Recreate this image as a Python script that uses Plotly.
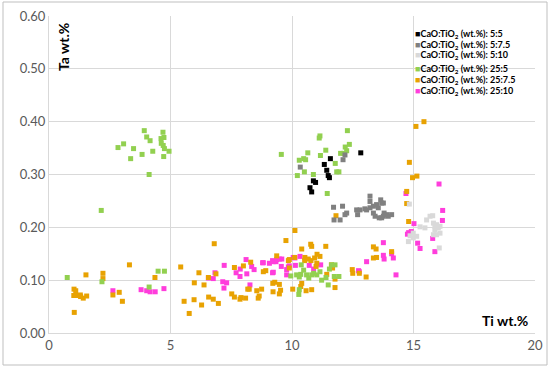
import plotly.graph_objects as go

# ---------------- data ----------------
series_names = ["5:5", "5:7.5", "5:10", "25:5", "25:7.5", "25:10"]
series_colors = ["#000000", "#808080", "#d9d9d9", "#92d050", "#e8a202", "#ff3ddc"]

x_5_5 = [12.83, 11.58, 11.33, 11.43, 11.49, 11.54, 10.88, 10.97, 10.74, 10.81]
y_5_5 = [0.341, 0.330, 0.319, 0.308, 0.298, 0.294, 0.288, 0.285, 0.275, 0.267]

x_5_75 = [10.34, 12.18, 12.10, 11.71, 12.08, 11.73, 11.98, 12.25, 12.18, 12.66, 12.80, 12.70,
          13.00, 13.07, 13.21, 13.21, 13.21, 13.35, 13.48, 13.65, 13.69, 13.55, 13.35, 13.59,
          13.76, 13.96, 14.10, 13.42, 13.79, 13.76, 13.90, 13.69]
y_5_75 = [0.314, 0.337, 0.328, 0.238, 0.240, 0.214, 0.214, 0.227, 0.224, 0.233, 0.233, 0.224,
          0.235, 0.233, 0.259, 0.249, 0.237, 0.240, 0.243, 0.252, 0.246, 0.237, 0.227, 0.218,
          0.221, 0.221, 0.224, 0.221, 0.227, 0.246, 0.224, 0.218]

x_5_10 = [14.83, 15.68, 15.79, 15.54, 15.27, 15.47, 15.82, 15.95, 15.88, 16.02, 16.09, 15.82,
          15.95, 15.13, 14.99, 14.86, 14.79, 14.99, 16.06, 15.88, 16.09]
y_5_10 = [0.244, 0.221, 0.222, 0.214, 0.201, 0.199, 0.208, 0.205, 0.195, 0.199, 0.189, 0.186,
          0.186, 0.183, 0.180, 0.184, 0.173, 0.189, 0.161, 0.202, 0.202]

x_25_5 = [3.92, 4.02, 4.16, 4.69, 4.73, 4.61, 4.62, 4.70, 4.75, 4.94, 4.72, 4.27, 3.83, 3.48,
          3.07, 2.84, 3.36, 4.12, 2.15,
          0.75, 2.18, 4.49, 4.75, 4.12,
          12.28, 11.15, 11.12, 12.36, 12.19, 12.25, 12.00, 12.13, 11.39, 10.65, 9.56, 11.17,
          10.30, 10.48, 10.56, 11.78, 10.51, 10.22, 10.88, 11.84, 11.93, 11.45,
          10.38, 10.48, 10.36, 10.60, 10.19, 9.95, 10.30, 10.69, 10.81, 11.02, 11.15, 11.22,
          11.40, 11.54, 11.63, 11.77, 11.49, 11.74, 11.93, 10.30, 10.28, 10.89]
y_25_5 = [0.383, 0.371, 0.364, 0.380, 0.370, 0.368, 0.359, 0.355, 0.349, 0.344, 0.334, 0.344,
          0.338, 0.349, 0.358, 0.351, 0.330, 0.300, 0.232,
          0.105, 0.097, 0.117, 0.117, 0.087,
          0.383, 0.373, 0.369, 0.357, 0.352, 0.345, 0.340, 0.340, 0.346, 0.341, 0.338, 0.336,
          0.327, 0.330, 0.328, 0.321, 0.305, 0.298, 0.300, 0.305, 0.305, 0.264,
          0.129, 0.119, 0.111, 0.110, 0.110, 0.108, 0.106, 0.104, 0.110, 0.110, 0.116, 0.100,
          0.105, 0.121, 0.129, 0.129, 0.091, 0.107, 0.107, 0.082, 0.073, 0.113]

x_25_75 = [1.03, 1.10, 1.02, 1.11, 1.29, 1.30, 1.41, 1.55, 1.04, 1.52, 2.22, 2.22, 2.63, 2.89,
           3.02, 3.31, 4.36,
           5.42, 6.17, 5.98, 6.38, 5.56, 5.97, 5.77, 6.28, 6.57, 6.76, 6.97, 6.56, 6.87, 6.80,
           7.52, 7.63, 7.86, 7.90, 8.09, 8.18, 8.24, 8.55, 8.75, 8.61, 8.65, 7.63, 8.00, 8.30,
           8.92, 8.82,
           9.37, 9.85, 9.89, 9.75, 10.12, 9.21, 9.29, 9.48, 9.22, 9.53, 9.48, 10.03, 10.40,
           10.36, 10.58, 10.81, 11.77, 11.77, 11.43,
           9.89, 10.11, 10.40, 10.53, 10.52, 10.67, 10.78, 10.93, 11.02, 10.99, 10.77, 10.81,
           11.39, 11.03, 11.15, 11.62, 11.67,
           12.48, 12.50, 12.77, 13.05, 13.35, 13.46, 13.35, 13.48, 14.10, 11.81,
           15.43, 15.10, 14.83, 14.96, 15.14, 14.72, 14.72, 14.80]
y_25_75 = [0.083, 0.080, 0.071, 0.071, 0.072, 0.069, 0.066, 0.070, 0.039, 0.110, 0.113, 0.103,
           0.072, 0.077, 0.060, 0.129, 0.105,
           0.125, 0.114, 0.095, 0.091, 0.060, 0.063, 0.037, 0.053, 0.068, 0.064, 0.056, 0.105,
           0.112, 0.169,
           0.074, 0.068, 0.064, 0.067, 0.066, 0.083, 0.083, 0.080, 0.083, 0.066, 0.070, 0.124,
           0.127, 0.134, 0.118, 0.116,
           0.146, 0.137, 0.123, 0.175, 0.194, 0.094, 0.096, 0.092, 0.078, 0.081, 0.074, 0.083,
           0.094, 0.088, 0.080, 0.082, 0.086, 0.102, 0.111,
           0.139, 0.143, 0.159, 0.143, 0.137, 0.140, 0.137, 0.142, 0.132, 0.126, 0.168, 0.164,
           0.164, 0.149, 0.145, 0.129, 0.123,
           0.120, 0.113, 0.113, 0.106, 0.163, 0.159, 0.142, 0.143, 0.154, 0.222,
           0.400, 0.391, 0.323, 0.294, 0.297, 0.268, 0.245, 0.211]

x_25_10 = [2.63, 3.79, 4.02, 4.16, 4.37, 4.73,
           6.56, 6.76, 6.83, 7.15, 7.31, 7.20, 7.21, 7.70, 7.87, 7.86, 8.11, 8.34, 8.44, 8.14,
           8.27, 8.79, 9.07, 9.20, 9.34, 9.48, 9.58, 9.56, 9.78, 9.20, 9.89, 10.05, 9.23, 9.37,
           9.85, 9.78, 9.23, 10.12, 10.33, 10.14, 10.71, 10.89, 11.18, 8.82,
           12.74, 13.07, 12.77, 13.76, 13.76, 13.79, 14.17, 14.10, 14.28,
           16.05, 14.69, 16.20, 16.19, 15.02, 14.91, 14.80, 14.75, 15.79, 15.17, 15.27, 15.88]
y_25_10 = [0.080, 0.082, 0.080, 0.078, 0.078, 0.084,
           0.104, 0.103, 0.114, 0.097, 0.095, 0.085, 0.128, 0.114, 0.121, 0.107, 0.139, 0.126,
           0.120, 0.112, 0.091, 0.133, 0.132, 0.137, 0.135, 0.140, 0.140, 0.126, 0.120, 0.114,
           0.127, 0.143, 0.135, 0.139, 0.125, 0.110, 0.115, 0.142, 0.145, 0.128, 0.128, 0.121,
           0.129, 0.133,
           0.118, 0.135, 0.116, 0.171, 0.147, 0.140, 0.142, 0.150, 0.110,
           0.282, 0.264, 0.232, 0.213, 0.207, 0.192, 0.190, 0.187, 0.179, 0.170, 0.160, 0.154]

all_x = [x_5_5, x_5_75, x_5_10, x_25_5, x_25_75, x_25_10]
all_y = [y_5_5, y_5_75, y_5_10, y_25_5, y_25_75, y_25_10]

# ---------------- figure ----------------
W, H = 550, 368
L, R, T, B = 49, 15, 16, 35
pw, ph = W - L - R, H - T - B

fig = go.Figure()
draw_order = [5, 4, 3, 2, 1, 0]
for i in draw_order:
    fig.add_trace(go.Scatter(
        x=all_x[i], y=all_y[i], mode="markers",
        name="CaO:TiO<sub>2</sub> (wt.%): " + series_names[i],
        marker=dict(symbol="square", size=5, color=series_colors[i], line=dict(width=0)),
        showlegend=False, hoverinfo="skip",
    ))

axis_font = dict(family="Lato, sans-serif", size=13, color="#595959")
fig.update_xaxes(range=[0, 20], dtick=5, tick0=0, automargin=False,
                 showgrid=True, gridcolor="#d9d9d9", gridwidth=1, zeroline=False,
                 showline=True, linecolor="#d9d9d9", linewidth=1, ticks="",
                 tickfont=axis_font)
fig.update_yaxes(range=[0, 0.6], dtick=0.1, tick0=0, tickformat=".2f", automargin=False,
                 showgrid=True, gridcolor="#d9d9d9", gridwidth=1, zeroline=False,
                 showline=True, linecolor="#d9d9d9", linewidth=1, ticks="",
                 tickfont=axis_font)

def px_to_paper_x(px):
    return (px - L) / pw

def px_to_paper_y(py):
    return (H - B - py) / ph

annotations = []
annotations.append(dict(text="<b>Ta wt.%</b>", x=px_to_paper_x(64), y=px_to_paper_y(47),
                        xref="paper", yref="paper", showarrow=False, textangle=-90,
                        xanchor="center", yanchor="middle",
                        font=dict(family="Lato, sans-serif", size=14, color="#000000")))
annotations.append(dict(text="<b>Ti wt.%</b>", x=px_to_paper_x(530), y=px_to_paper_y(320),
                        xref="paper", yref="paper", showarrow=False,
                        xanchor="right", yanchor="middle",
                        font=dict(family="Lato, sans-serif", size=14, color="#000000")))

legend_rows_px = [34, 44.5, 55, 69, 80, 91]
for i, ypx in enumerate(legend_rows_px):
    annotations.append(dict(
        text=f"<span style='color:{series_colors[i]}'>■</span><b>CaO:TiO<sub>2</sub> (wt.%): {series_names[i]}</b>",
        x=px_to_paper_x(413), y=px_to_paper_y(ypx), xref="paper", yref="paper",
        xanchor="left", yanchor="middle", showarrow=False,
        font=dict(family="Lato, sans-serif", size=9, color="#000000")))

fig.update_layout(
    width=W, height=H, autosize=False,
    margin=dict(l=L, r=R, t=T, b=B, pad=0, autoexpand=False),
    paper_bgcolor="white", plot_bgcolor="white",
    annotations=annotations,
    hovermode=False,
    shapes=[dict(type="rect", xref="paper", yref="paper",
                 x0=px_to_paper_x(3), x1=px_to_paper_x(547),
                 y0=px_to_paper_y(365), y1=px_to_paper_y(2),
                 line=dict(color="#bfbfbf", width=1), fillcolor="rgba(0,0,0,0)", layer="below")],
)

post = ("document.documentElement.style.margin='0';document.documentElement.style.padding='0';"
        "document.documentElement.style.overflow='hidden';"
        "document.body.style.margin='0';document.body.style.padding='0';"
        "document.body.style.overflow='hidden';")
fig.write_html("out.html",
               config={"displayModeBar": False, "responsive": False, "staticPlot": True},
               post_script=post)
